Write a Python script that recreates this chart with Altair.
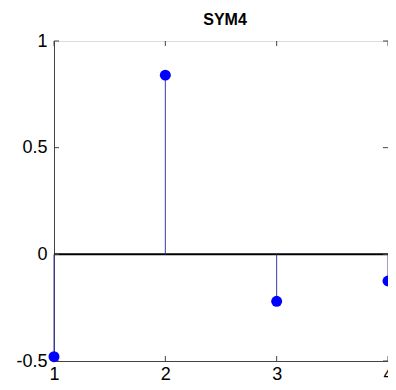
import altair as alt
import pandas as pd

# Data
x_vals = [1, 2, 3, 4]
y_vals = [-0.48, 0.84, -0.22, -0.125]
x_ticks = [1, 2, 3, 4]
y_ticks = [-0.5, 0, 0.5, 1]
title_text = "SYM4"

W, H = 334, 320
PAD_L, PAD_T = 46, 33
PAD_R = 380 - PAD_L - W
PAD_B = 374 - PAD_T - H

df = pd.DataFrame({"x": x_vals, "y": y_vals, "zero": [0] * len(x_vals)})
xt = pd.DataFrame({"t": x_ticks})
yt = pd.DataFrame({"t": y_ticks})
tdf = pd.DataFrame({"label": [title_text]})

xscale = alt.Scale(domain=[1, 4], nice=False, zero=False)
yscale = alt.Scale(domain=[-0.5, 1], nice=False, zero=False)

xaxis = alt.Axis(values=x_ticks, title=None, grid=False, ticks=False, labelFontSize=18,
                 labelColor="black", labelFont="Liberation Sans", labelPadding=4,
                 domainColor="#444444", labelExpr="'' + datum.value", labelFlush=False)
yaxis = alt.Axis(values=y_ticks, title=None, grid=False, ticks=False, labelFontSize=18,
                 labelColor="black", labelFont="Liberation Sans", labelPadding=7,
                 domainColor="#444444", labelExpr="'' + datum.value", labelFlush=False)

base = alt.Chart(df)

zero_line = alt.Chart(pd.DataFrame({"z": [0]})).mark_rule(color="black", strokeWidth=2).encode(
    y=alt.Y("z:Q", scale=yscale, axis=yaxis),
)

stems = base.mark_rule(color="#3a3aa8", strokeWidth=1).encode(
    x=alt.X("x:Q", scale=xscale, axis=xaxis),
    y=alt.Y("zero:Q", scale=yscale),
    y2="y:Q",
)

points = base.mark_circle(color="#0000ff", opacity=1, size=120).encode(
    x=alt.X("x:Q", scale=xscale),
    y=alt.Y("y:Q", scale=yscale),
)

# inward tick marks (MATLAB style)
xt_bottom = alt.Chart(xt).mark_rule(color="#444444").encode(
    x=alt.X("t:Q", scale=xscale), y=alt.value(H), y2=alt.value(H - 5))
xt_top = alt.Chart(xt).mark_rule(color="#444444").encode(
    x=alt.X("t:Q", scale=xscale), y=alt.value(0), y2=alt.value(5))
yt_left = alt.Chart(yt).mark_rule(color="#444444").encode(
    y=alt.Y("t:Q", scale=yscale), x=alt.value(0), x2=alt.value(5))
yt_right = alt.Chart(yt).mark_rule(color="#444444").encode(
    y=alt.Y("t:Q", scale=yscale), x=alt.value(W), x2=alt.value(W - 5))

title_mark = alt.Chart(tdf).mark_text(
    fontSize=16, fontWeight="bold", font="Liberation Sans", color="black",
    align="center", baseline="middle",
).encode(text="label:N", x=alt.value(W / 2 + 4), y=alt.value(-21))

chart = alt.layer(zero_line, stems, xt_bottom, xt_top, yt_left, yt_right, points,
                  title_mark).properties(
    width=W, height=H,
    autosize=alt.AutoSizeParams(type="none"),
    padding={"left": PAD_L, "top": PAD_T, "right": PAD_R, "bottom": PAD_B},
).configure_view(stroke="#444444", strokeWidth=1).configure(background="white")

chart.save("out.html", embed_options={"renderer": "svg", "actions": False})
